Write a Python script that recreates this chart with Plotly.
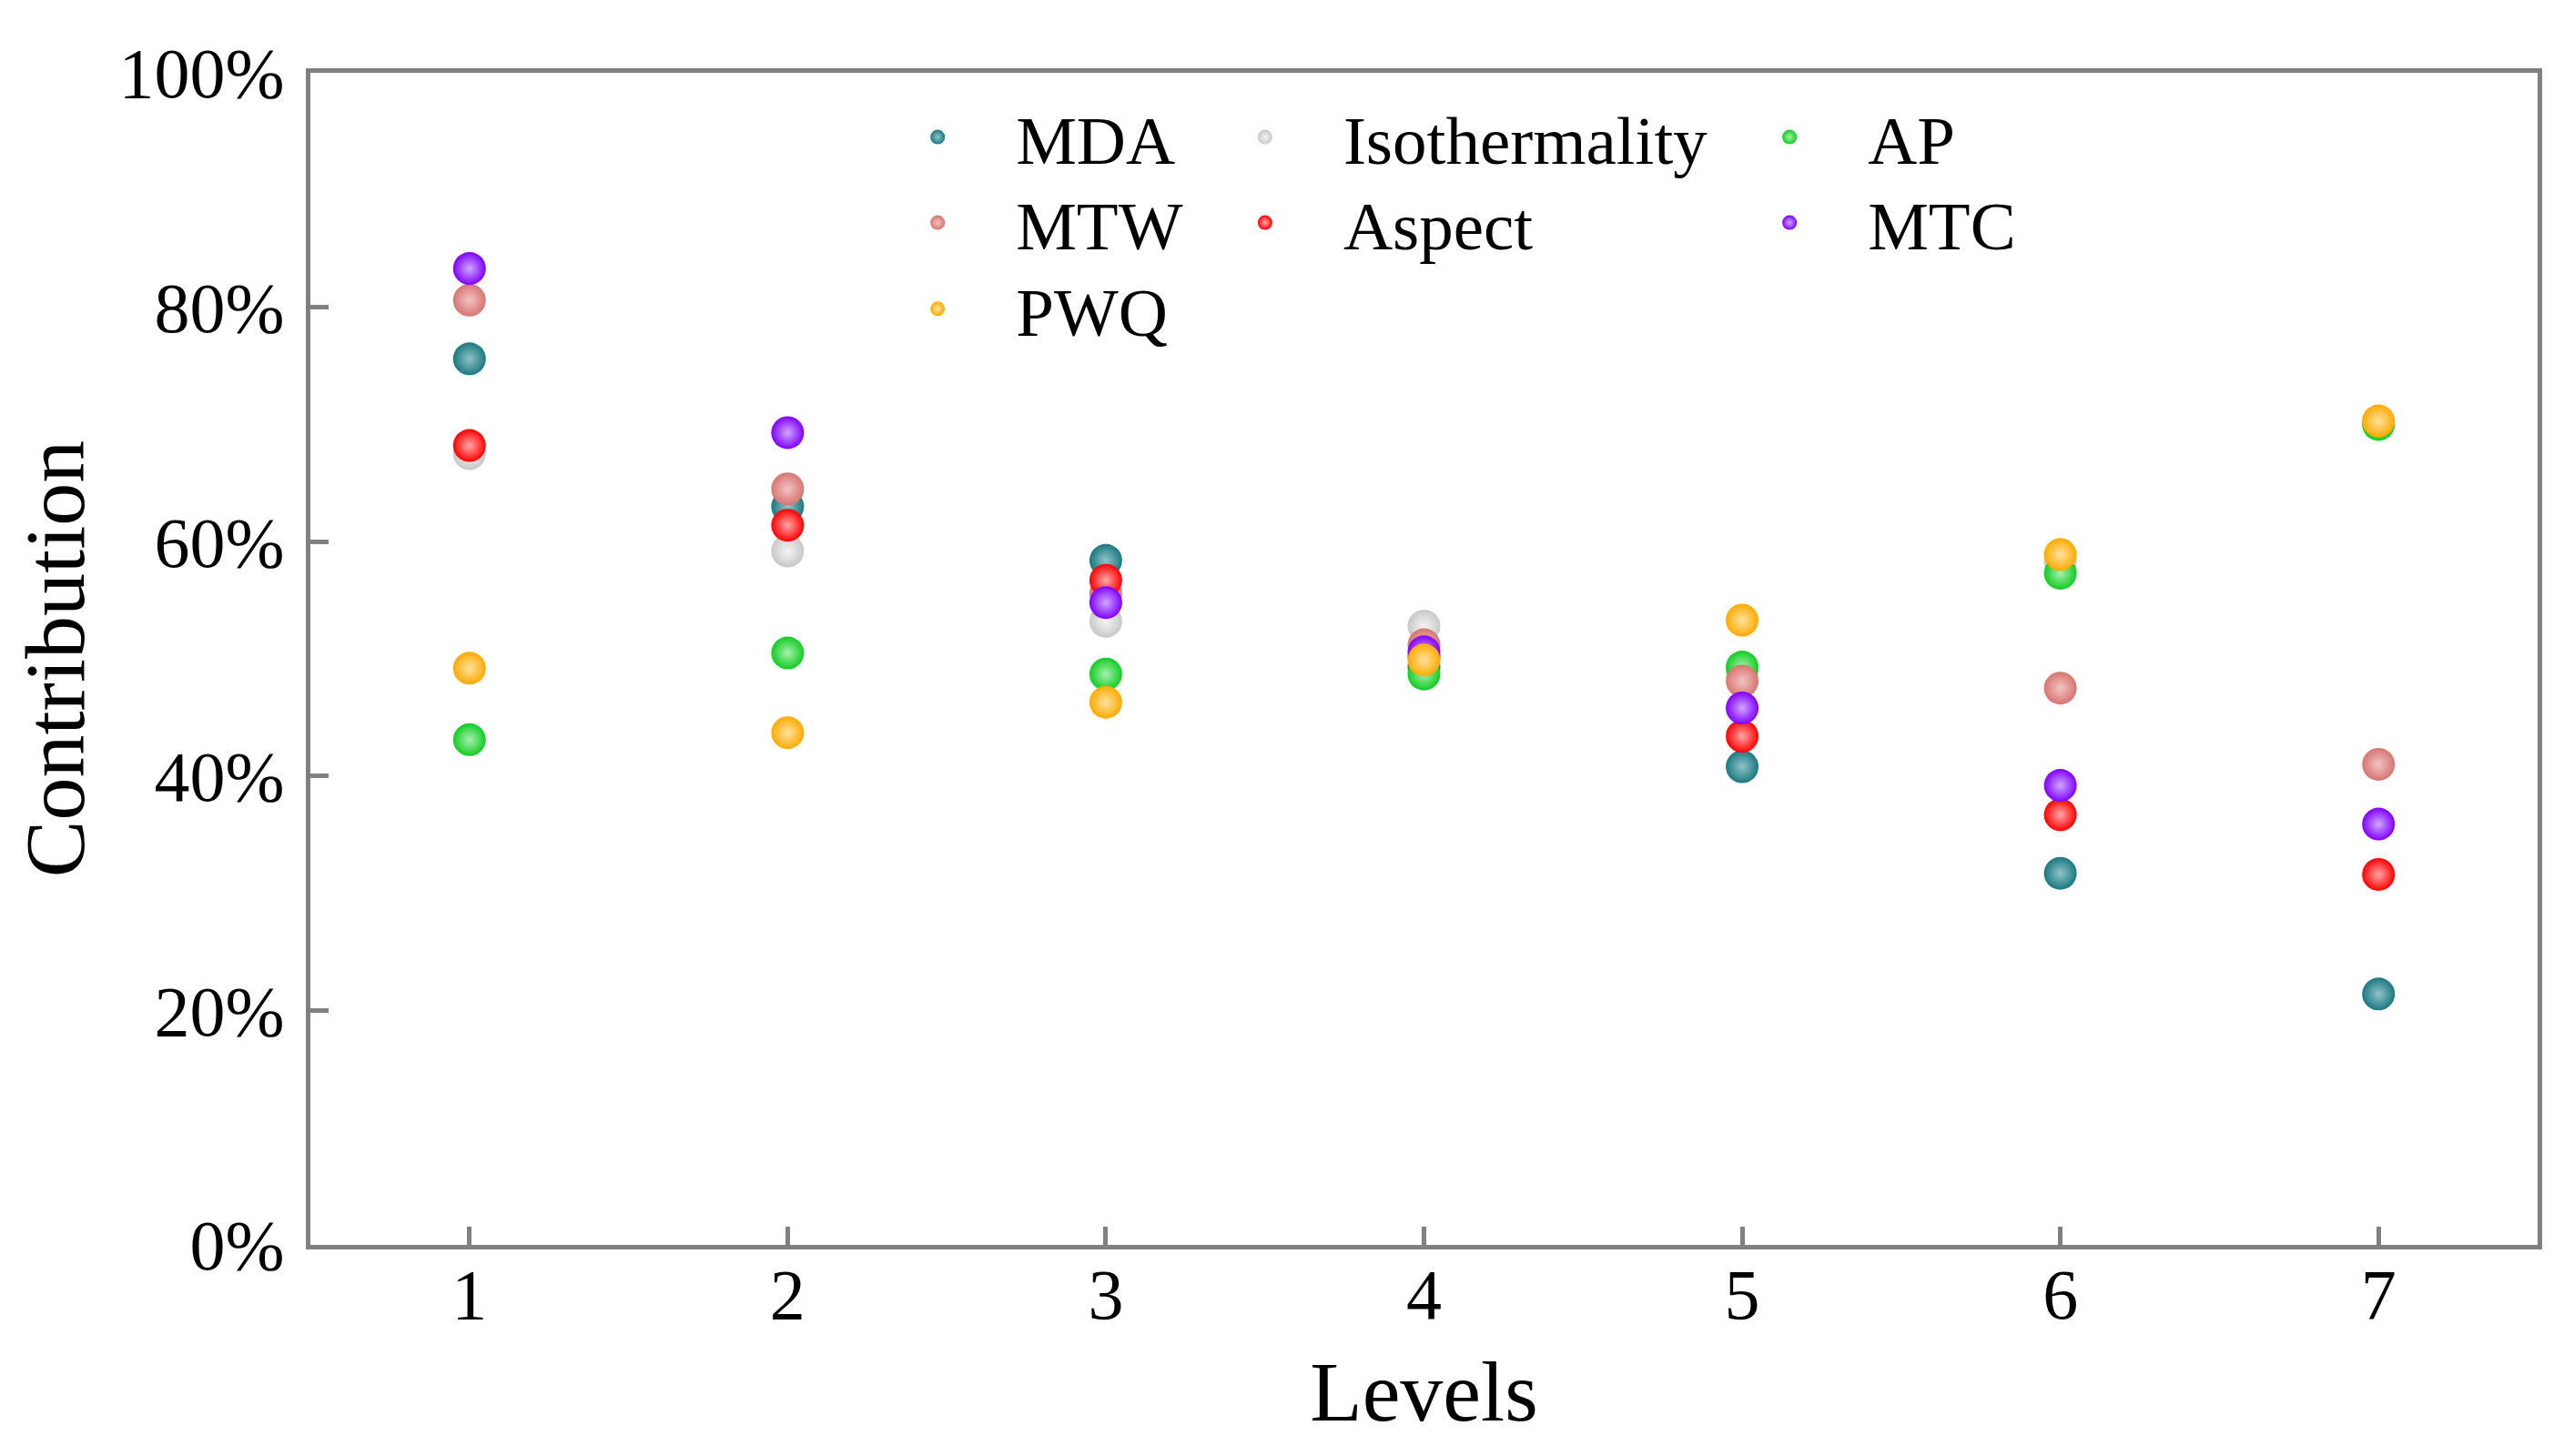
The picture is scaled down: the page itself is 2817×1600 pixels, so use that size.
import plotly.graph_objects as go

levels = [1, 2, 3, 4, 5, 6, 7]
series_names = ["MDA", "Isothermality", "AP", "MTW", "Aspect", "MTC", "PWQ"]

mda = [75.6, 63.0, 58.4, 49.3, 40.8, 31.7, 21.4]
isothermality = [67.5, 59.2, 53.2, 52.8, 48.8, 58.2, 70.1]
ap = [43.1, 50.5, 48.7, 48.7, 49.3, 57.3, 70.0]
mtw = [80.6, 64.5, 55.6, 51.2, 48.1, 47.5, 41.0]
aspect = [68.2, 61.4, 56.7, 50.2, 43.4, 36.7, 31.6]
mtc = [83.3, 69.3, 54.8, 50.6, 45.8, 39.2, 35.9]
pwq = [49.2, 43.7, 46.3, 49.9, 53.3, 58.9, 70.3]

colors = ["#1b7880", "#c8c8c8", "#11cc22", "#d77572", "#ff0000", "#8000ff", "#ffaa00"]
highlight = ["#8fc4c8", "#f4f4f4", "#a8f0ae", "#f2c4c2", "#ffa8a8", "#cfa8ff", "#ffe2a0"]

values = [mda, isothermality, ap, mtw, aspect, mtc, pwq]

# legend layout: 3 columns, filled row by row
leg_cols_x = [0.2465, 0.3935, 0.629]
leg_rows_y = [0.945, 0.872, 0.7985]

FONT = "Liberation Serif"

fig = go.Figure()
legend_layouts = {}
for i, (name, vals, c, h) in enumerate(zip(series_names, values, colors, highlight)):
    key = "legend" if i == 0 else f"legend{i + 1}"
    fig.add_trace(go.Scatter(
        x=levels, y=vals, mode="markers", name=name, legend=key,
        marker=dict(size=36, color=c, line=dict(width=0),
                    gradient=dict(type="radial", color=h)),
    ))
    legend_layouts[key] = dict(
        font=dict(family=FONT, size=75, color="black"),
        bgcolor="rgba(0,0,0,0)", borderwidth=0,
        orientation="v", yanchor="middle", xanchor="left",
        x=leg_cols_x[i % 3], y=leg_rows_y[i // 3],
        itemwidth=162,
    )

axis_common = dict(
    showline=True, linecolor="#808080", linewidth=5, mirror=True,
    ticks="inside", tickcolor="#808080", tickwidth=5, ticklen=20,
    showgrid=False, zeroline=False,
    tickfont=dict(family=FONT, size=78, color="black"),
)

fig.update_layout(
    width=2817, height=1600,
    margin=dict(l=333, r=37, t=72, b=240),
    paper_bgcolor="white", plot_bgcolor="white",
    font=dict(family=FONT, color="black"),
    xaxis=dict(**axis_common, range=[0.5, 7.5], tickmode="array",
               tickvals=levels, ticktext=[str(v) for v in levels],
               ticklabelstandoff=-18,
               title=dict(text="Levels", font=dict(family=FONT, size=94, color="black"), standoff=32)),
    yaxis=dict(**axis_common, range=[0, 100], dtick=20, tick0=0, ticksuffix="%",
               ticklabelstandoff=8,
               title=dict(text="Contribution", font=dict(family=FONT, size=94, color="black"), standoff=20)),
    showlegend=True,
    **legend_layouts,
)

fig.write_html("out.html")
